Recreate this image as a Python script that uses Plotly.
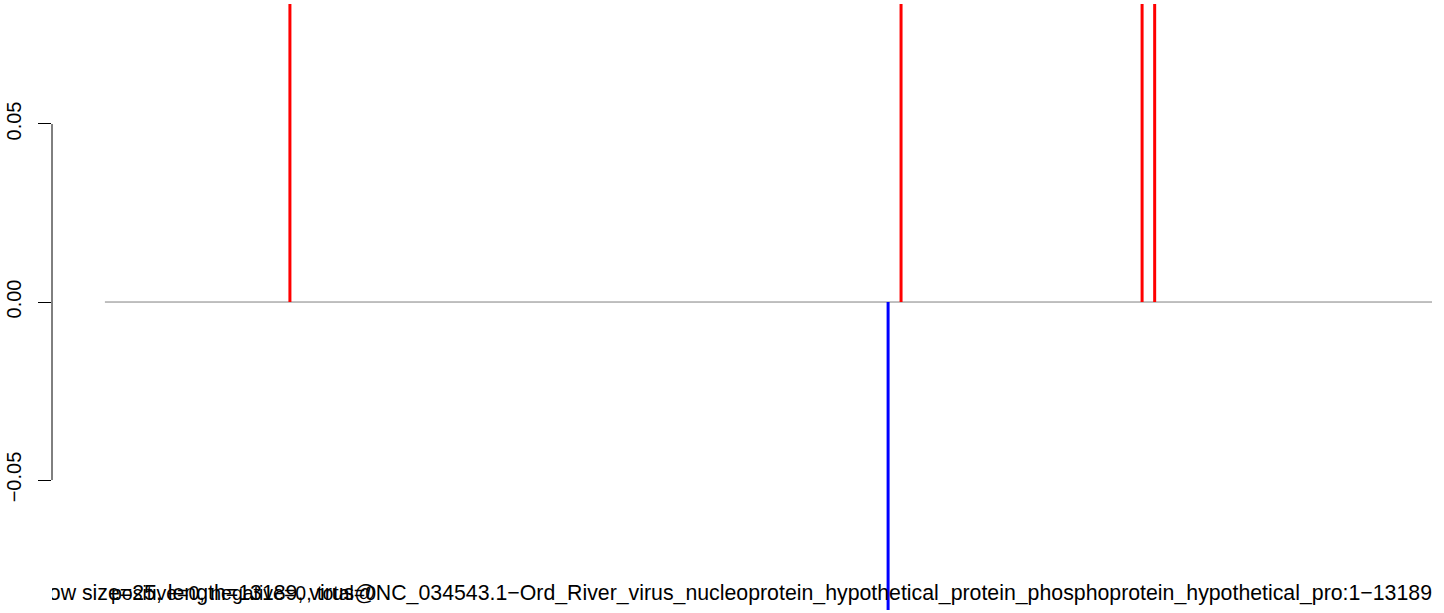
import plotly.graph_objects as go

# ---- data ----
seq_start = 1
seq_end = 13189
pos_positions = [1459, 8018, 10605, 10740]
pos_values = [0.084, 0.084, 0.084, 0.084]
neg_positions = [7879]
neg_values = [-0.0865]
y_ticks = [-0.05, 0.0, 0.05]
y_tick_labels = ["\u22120.05", "0.00", "0.05"]
main_label = ("window size=25, length=13189, virus@NC_034543.1\u2212Ord_River_virus_nucleoprotein_"
              "hypothetical_protein_phosphoprotein_hypothetical_pro:1\u221213189")
count_label = "positive=0, negative=0, total=0"

# ---- layout geometry ----
W, H = 1444, 613
ml, mr, mt, mb = 50, 12, 4, 3
span = seq_end - seq_start
x_lo = seq_start - 0.04 * span
x_hi = seq_end + 0.04 * span
# region from pixel 103 to 1432 is x_lo..x_hi; axis line sits at pixel 50
scale = (1432 - 103) / (x_hi - x_lo)
x_axis_start = x_lo - (103 - ml) / scale
y_top = 0.0837
y_bot = -0.0865
y_per_px = (y_top - y_bot) / (H - mt - mb)
text_y_val = y_bot + 15.5 * y_per_px

def stems(xs, ys):
    X, Y = [], []
    for x, y in zip(xs, ys):
        X += [x, x, None]
        Y += [0, y, None]
    return X, Y

font = "Liberation Sans, Arial, Helvetica, sans-serif"

fig = go.Figure()
fig.add_trace(go.Scatter(x=[x_lo, x_hi], y=[0, 0], mode="lines",
                         line=dict(color="#808080", width=1), hoverinfo="skip"))
px_, py_ = stems(pos_positions, pos_values)
fig.add_trace(go.Scatter(x=px_, y=py_, mode="lines", line=dict(color="#ff0000", width=3)))
nx_, ny_ = stems(neg_positions, neg_values)
fig.add_trace(go.Scatter(x=nx_, y=ny_, mode="lines", line=dict(color="#0000ff", width=3)))
# main caption, clipped to the plotting region like the original
fig.add_trace(go.Scatter(x=[x_hi], y=[text_y_val], mode="text", text=[main_label],
                         textposition="middle left", cliponaxis=True, hoverinfo="skip",
                         textfont=dict(family=font, size=21.3, color="black")))

fig.update_layout(
    width=W, height=H, showlegend=False,
    paper_bgcolor="white", plot_bgcolor="white",
    margin=dict(l=ml, r=mr, t=mt, b=mb, pad=0),
    font=dict(family=font, size=20, color="black"),
    xaxis=dict(range=[x_axis_start, x_hi], visible=False, showgrid=False, zeroline=False),
    yaxis=dict(range=[y_bot, y_top], showgrid=False, zeroline=False, showline=False,
               tickvals=y_ticks, ticktext=y_tick_labels, ticks="outside", ticklen=13,
               tickwidth=1, tickcolor="black", tickangle=-90, ticklabelstandoff=9,
               tickfont=dict(family=font, size=20, color="black")),
    shapes=[dict(type="line", xref="paper", x0=0, x1=0, yref="y",
                 y0=y_ticks[0], y1=y_ticks[-1], line=dict(color="black", width=1))],
    annotations=[
        dict(text=count_label, xref="paper", x=(107 - ml) / (W - ml - mr), xanchor="left",
             yref="y", y=text_y_val, yanchor="middle", yshift=2, showarrow=False,
             font=dict(family=font, size=19.5, color="black")),
    ],
)
fig.write_html("out.html", config={"displayModeBar": False},
               post_script="document.body.style.margin='0';")
